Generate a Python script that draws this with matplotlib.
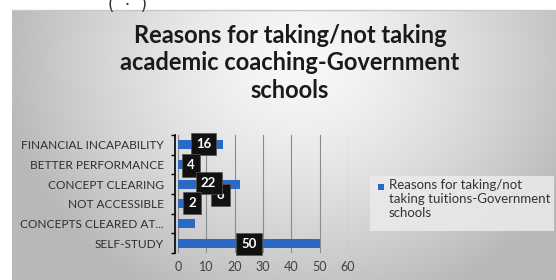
import numpy as np
import matplotlib
matplotlib.use("Agg")
import matplotlib.pyplot as plt
from matplotlib.patches import Rectangle

categories = ["FINANCIAL INCAPABILITY", "BETTER PERFORMANCE", "CONCEPT CLEARING",
              "NOT ACCESSIBLE", "CONCEPTS CLEARED AT...", "SELF-STUDY"]
values = [16, 4, 22, 2, 6, 50]
label_texts = ["16", "4", "22", "2", "6", "50"]
xticks = [0, 10, 20, 30, 40, 50, 60]
series_name = "Reasons for taking/not\ntaking tuitions-Government\nschools"
title = "Reasons for taking/not taking\nacademic coaching-Government\nschools"

W, H = 556, 280
BLUE = "#2c68c4"
fig = plt.figure(figsize=(W / 100, H / 100), dpi=100)
fig.patch.set_facecolor("white")

# gradient background panel
bg = fig.add_axes([12 / W, 0, 1 - 12 / W, 270 / H])
bg.set_axis_off()
xx, yy = np.meshgrid(np.linspace(12, W, 300), np.linspace(10, H, 150))
d = np.sqrt(((xx - 300) / 300) ** 2 + ((yy - 60) / 260) ** 2)
d = np.clip(d, 0, 1)
g = 0.975 - 0.25 * d ** 1.4
img = np.dstack([g, g, g])
bg.imshow(img, aspect="auto", extent=[0, 1, 0, 1], origin="upper")
bg.set_xlim(0, 1)
bg.set_ylim(0, 1)
fig.add_artist(plt.Line2D([12 / W, 1], [1 - 10 / H, 1 - 10 / H], color="#c8c8c8", lw=1))
fig.text(108 / W, 1 + 4 / H, "(  ·  )", fontsize=12, color="#333333", va="top", ha="left")

fig.text(290 / W, 1 - 63 / H, title, ha="center", va="center", fontsize=17,
         fontweight="bold", family="Lato", color="#1a1a1a", linespacing=1.25)

ax = fig.add_axes([178 / W, (H - 253) / H, 170 / W, 118 / H])
ax.set_facecolor("none")
for s in ["top", "right", "bottom"]:
    ax.spines[s].set_visible(False)
ax.spines["left"].set_position(("outward", 2))
ax.spines["left"].set_color("black")
ax.spines["left"].set_linewidth(1.2)

pos = np.arange(len(categories))
ax.barh(pos, values, height=0.45, color=BLUE, zorder=2, label=series_name)
ax.set_xlim(0, 60)
ax.set_ylim(len(categories) - 0.5, -0.5)
ax.set_xticks(xticks)
ax.set_xticklabels([str(t) for t in xticks], family="Lato", fontsize=9, color="#404040")
ax.set_yticks(pos)
ax.set_yticklabels(categories, family="Lato", fontsize=8.6, color="#2e2e2e")
ax.set_yticks(np.arange(-0.5, len(categories)), minor=True)
ax.tick_params(axis="y", which="major", length=0, pad=8)
ax.tick_params(axis="y", which="minor", length=3, width=1, color="black", direction="out")
ax.tick_params(axis="x", length=0, pad=6)
ax.grid(axis="x", color="#8c8c8c", lw=0.8, zorder=1)

# data label positions (as seen in the reference)
lab_x = [9.0, 4.5, 10.8, 4.9, 15.0, 25.0]
lab_y = [-0.05, 1.05, 1.95, 2.95, 2.55, 5.05]
for i, t in enumerate(label_texts):
    ax.text(lab_x[i], lab_y[i], t, ha="center", va="center", color="white",
            fontsize=9.5, fontweight="bold", family="Lato", zorder=5 if i != 4 else 4,
            bbox=dict(boxstyle="square,pad=0.4", fc="#111111", ec="#555555", lw=0.5))

# legend box (Excel-style: marker aligned to the first text line)
fig.patches.append(Rectangle((370 / W, 1 - 231 / H), 184 / W, 55 / H,
                             transform=fig.transFigure, fc="#ebebeb", ec="none", alpha=0.85))
fig.patches.append(Rectangle((378 / W, 1 - 190 / H), 6 / W, 6 / H,
                             transform=fig.transFigure, fc=BLUE, ec="none"))
fig.text(389 / W, 1 - 179 / H, series_name, ha="left", va="top", family="Lato",
         fontsize=9.5, color="#333333", linespacing=1.2)

fig.savefig("out.png", dpi=100)
